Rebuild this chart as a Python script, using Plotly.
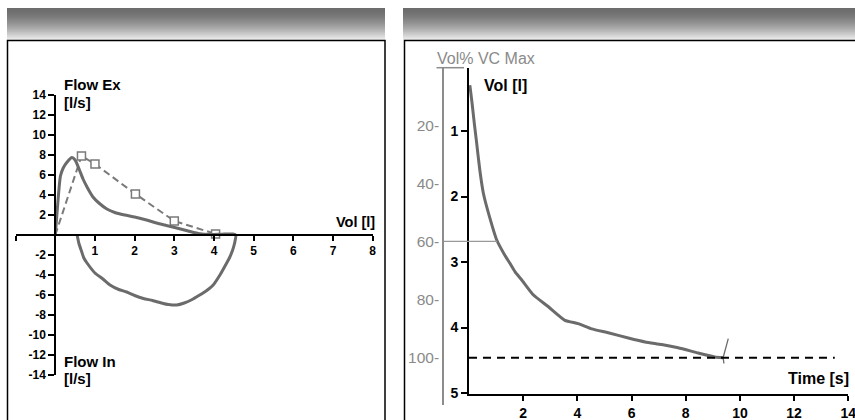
import numpy as np
import plotly.graph_objects as go

W, H = 855, 420

# ---------------- data ----------------
# Flow-volume loop (measured): expiration then inspiration
loop_vol = [0.0, 0.04, 0.08, 0.13, 0.2, 0.3, 0.42, 0.5, 0.6, 0.7, 0.8, 0.95, 1.1, 1.3, 1.5,
            1.75, 2.0, 2.3, 2.55, 2.8, 3.06, 3.35, 3.64, 3.9, 4.2, 4.48, 4.55,
            4.52, 4.47, 4.4, 4.32, 4.15, 3.98, 3.8, 3.64, 3.45, 3.25, 3.06, 2.85, 2.72,
            2.45, 2.22, 2.0, 1.8, 1.6, 1.38, 1.2, 1.0, 0.8, 0.72, 0.66, 0.6, 0.55]
loop_flow = [0.0, 2.0, 4.0, 5.9, 6.7, 7.3, 7.75, 7.5, 6.6, 5.6, 4.8, 3.8, 3.2, 2.6, 2.25,
             2.0, 1.8, 1.5, 1.2, 0.95, 0.7, 0.4, 0.12, 0.05, 0.08, 0.1, 0.0,
             -0.8, -1.5, -2.2, -2.8, -4.0, -5.0, -5.6, -6.0, -6.45, -6.8, -7.0, -6.95, -6.85,
             -6.55, -6.35, -6.05, -5.7, -5.45, -5.0, -4.4, -3.8, -2.8, -2.3, -1.6, -0.9, 0.0]

# Predicted values (dashed line with squares)
pred_vol = [0.0, 0.66, 1.0, 2.02, 3.0, 4.04]
pred_flow = [0.0, 7.9, 7.1, 4.1, 1.4, 0.1]
pred_marker_vol = [0.66, 1.0, 2.02, 3.0, 4.04]
pred_marker_flow = [7.9, 7.1, 4.1, 1.4, 0.1]

# Volume-time curve
vt_time = [0.03, 0.05, 0.12, 0.2, 0.27, 0.4, 0.53, 0.75, 1.02, 1.3, 1.51, 1.7, 1.94, 2.37,
           2.92, 3.54, 4.03, 4.53, 5.14, 5.88, 6.5, 7.11, 7.72, 8.46, 9.07, 9.38]
vt_vol = [0.3, 0.36, 0.6, 0.9, 1.14, 1.6, 1.95, 2.3, 2.66, 2.88, 3.02, 3.15, 3.27, 3.5,
          3.68, 3.89, 3.94, 4.02, 4.08, 4.16, 4.22, 4.26, 4.31, 4.39, 4.45, 4.46]
tail_time = [9.57, 9.38, 9.41]
tail_vol = [4.17, 4.46, 4.55]

vc_max = 4.46          # litres = 100 %
ref_pct = 60           # horizontal marker line
full_pct = 100
full_line_end = 13.5   # seconds

left_xticks = [-1, 1, 2, 3, 4, 5, 6, 7, 8]
left_xtext = ["", "1", "2", "3", "4", "5", "6", "7", "8"]
left_yticks = [-14, -12, -10, -8, -6, -4, -2, 2, 4, 6, 8, 10, 12, 14]
left_ytext = [str(v) for v in left_yticks]   # plain hyphen minus
time_ticks = [2, 4, 6, 8, 10, 12, 14]
vol_ticks = [1, 2, 3, 4, 5]
pct_ticks = [20, 40, 60, 80, 100]

# ---------------- helpers ----------------
def px(x):
    return x / W

def py(y):
    return 1 - y / H

CURVE = "#6b6b6b"
FONT = "Liberation Sans, Arial, sans-serif"

fig = go.Figure()

# Left panel traces
fig.add_trace(go.Scatter(x=pred_vol, y=pred_flow, mode="lines",
                         line=dict(color="#7a7a7a", width=2, dash="7px,4px"),
                         xaxis="x", yaxis="y", hoverinfo="skip"))
fig.add_trace(go.Scatter(x=pred_marker_vol, y=pred_marker_flow, mode="markers",
                         marker=dict(symbol="square", size=8, color="white",
                                     line=dict(color="#7a7a7a", width=1.5)),
                         xaxis="x", yaxis="y"))
fig.add_trace(go.Scatter(x=loop_vol, y=loop_flow, mode="lines",
                         line=dict(color=CURVE, width=3, shape="spline", smoothing=0.6),
                         xaxis="x", yaxis="y"))

# Right panel traces
t60 = float(np.interp(vc_max * ref_pct / 100, vt_vol, vt_time))
x3_left = -(469 - 444) / ((848.3 - 469) / 14)
fig.add_trace(go.Scatter(x=[x3_left, t60], y=[ref_pct, ref_pct], mode="lines",
                         line=dict(color="#999999", width=1.2),
                         xaxis="x3", yaxis="y3"))
fig.add_trace(go.Scatter(x=[0, full_line_end], y=[full_pct, full_pct], mode="lines",
                         line=dict(color="black", width=2, dash="8px,6px"),
                         xaxis="x3", yaxis="y3"))
fig.add_trace(go.Scatter(x=vt_time, y=vt_vol, mode="lines",
                         line=dict(color=CURVE, width=3, shape="spline", smoothing=0.5),
                         xaxis="x2", yaxis="y2"))
fig.add_trace(go.Scatter(x=tail_time, y=tail_vol, mode="lines",
                         line=dict(color=CURVE, width=1.3),
                         xaxis="x2", yaxis="y2"))

# ---------------- shapes (headers, frames) ----------------
shapes = []
top, bot = 8, 39.5
n = 32
for i in range(n):
    f = i / (n - 1)
    c = int(round(0x6c + (0xea - 0x6c) * f ** 1.6))
    col = f"rgb({c},{c},{c})"
    y0 = top + (bot - top) * i / n
    y1 = top + (bot - top) * (i + 1) / n
    for (xa, xb) in [(7, 385), (403, 870)]:
        shapes.append(dict(type="rect", xref="paper", yref="paper",
                           x0=px(xa), x1=px(xb), y0=py(y1 + 0.4), y1=py(y0),
                           fillcolor=col, line=dict(width=0), layer="below"))
shapes.append(dict(type="rect", xref="paper", yref="paper",
                   x0=px(7.5), x1=px(385), y0=py(430), y1=py(40.5),
                   line=dict(color="black", width=1.5), fillcolor="rgba(0,0,0,0)"))
shapes.append(dict(type="rect", xref="paper", yref="paper",
                   x0=px(404.5), x1=px(870), y0=py(430), y1=py(40.5),
                   line=dict(color="black", width=1.5), fillcolor="rgba(0,0,0,0)"))
shapes.append(dict(type="line", xref="paper", yref="paper",
                   x0=px(436.5), x1=px(464), y0=py(67.7), y1=py(67.7),
                   line=dict(color="#8c8c8c", width=1.5)))

# ---------------- annotations ----------------
def ann(text, x, y, xanchor="left", size=15, color="black", bold=True):
    return dict(text=f"<b>{text}</b>" if bold else text, x=px(x), y=py(y),
                xref="paper", yref="paper", xanchor=xanchor, yanchor="middle",
                showarrow=False, font=dict(family=FONT, size=size, color=color))

annotations = [
    ann("Flow Ex", 62, 85),
    ann("[l/s]", 62, 102),
    ann("Vol [l]", 377, 222, xanchor="right", size=14.5),
    ann("Flow In", 62, 361),
    ann("[l/s]", 62, 378),
    ann("Vol% VC Max", 435, 59, size=16, color="#8a8a8a", bold=False),
    ann("Vol [l]", 482, 86, size=16),
    ann("Time [s]", 851, 378, xanchor="right", size=16),
]

tickfont_l = dict(family=FONT, size=12, color="black", weight="bold")
tickfont_r = dict(family=FONT, size=14, color="black", weight="bold")

common = dict(showgrid=False, zeroline=False, fixedrange=True, automargin=False)

fig.update_layout(
    template="none",
    width=W, height=H, autosize=False,
    margin=dict(l=0, r=0, t=0, b=0, pad=0),
    paper_bgcolor="white", plot_bgcolor="rgba(0,0,0,0)",
    showlegend=False,
    shapes=shapes, annotations=annotations,
    xaxis=dict(domain=[px(15.6), px(372.7)], range=[-1, 8], anchor="free",
               position=py(235), showline=True, linecolor="black", linewidth=2,
               ticks="outside", ticklen=5, tickwidth=2, tickcolor="black",
               tickvals=left_xticks, ticktext=left_xtext, tickfont=tickfont_l, **common),
    yaxis=dict(domain=[py(375), py(95)], range=[-14, 14], anchor="free",
               position=px(55.3), showline=True, linecolor="black", linewidth=2,
               ticks="outside", ticklen=6, tickwidth=2, tickcolor="black",
               tickvals=left_yticks, ticktext=left_ytext, tickfont=tickfont_l, **common),
    xaxis2=dict(domain=[px(469), px(848.3)], range=[0, 14], anchor="y2",
                showline=True, linecolor="black", linewidth=2,
                ticks="outside", ticklen=5, tickwidth=2, tickcolor="black",
                tickvals=time_ticks, tickfont=tickfont_r, ticklabeloverflow="allow",
                **common),
    yaxis2=dict(domain=[py(394), py(67.7)], range=[(394 - 65.5) / 65.5, (67.7 - 65.5) / 65.5],
                anchor="x2", showline=True, linecolor="black", linewidth=2,
                ticks="outside", ticklen=6, tickwidth=2, tickcolor="black",
                tickvals=vol_ticks, tickfont=tickfont_r, **common),
    xaxis3=dict(domain=[px(444), px(848.3)], range=[x3_left, 14], anchor="y3",
                visible=False, **common),
    yaxis3=dict(domain=[py(405), py(67.7)], range=[(405 - 67) / 2.907, (67.7 - 67) / 2.907],
                anchor="x3", showline=True, linecolor="#8c8c8c", linewidth=1.5,
                ticks="", tickvals=pct_ticks, ticktext=[f"{v}-" for v in pct_ticks],
                tickfont=dict(family=FONT, size=15.5, color="#8a8a8a"), **common),
)

fig.write_html("out.html")
